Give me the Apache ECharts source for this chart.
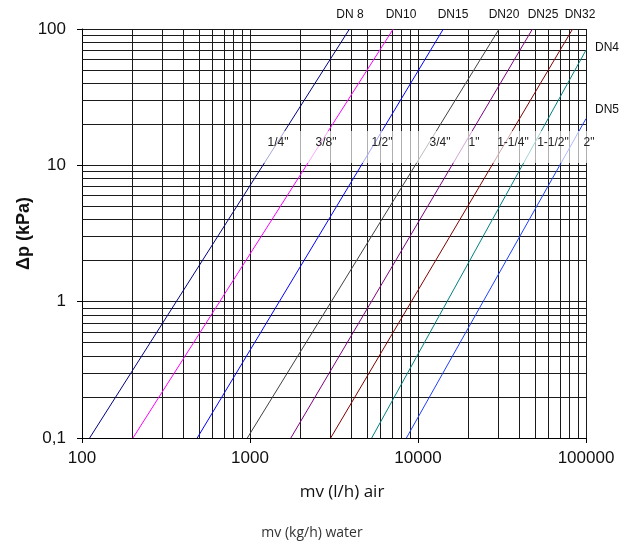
<!DOCTYPE html>
<html>
<head>
<meta charset="utf-8">
<script src="https://cdn.jsdelivr.net/npm/echarts@6/dist/echarts.min.js"></script>
<style>
  html, body { margin: 0; padding: 0; background: #fff; }
  #chart { width: 619px; height: 544px; }
</style>
</head>
<body>
<div id="chart"></div>
<script>
// pipe sizes, one curve each
const sizes = ['DN 8', 'DN10', 'DN15', 'DN20', 'DN25', 'DN32', 'DN40', 'DN50'];
const inches = ['1/4"', '3/8"', '1/2"', '3/4"', '1"', '1-1/4"', '1-1/2"', '2"'];
const lineColors = ['#000080', '#ff00ff', '#0000ff', '#404040', '#800080', '#800000', '#008080', '#1f3fff'];
// flow (l/h) where each curve leaves the bottom (0.1 kPa)
const flowLow = [111, 201, 485, 964, 1750, 3020, 5300, 8530];
const dpLow = [0.1, 0.1, 0.1, 0.1, 0.1, 0.1, 0.1, 0.1];
// end point of each curve (top edge, or right edge for DN40 / DN50)
const flowHigh = [3910, 7120, 14150, 30400, 48000, 83200, 100000, 100000];
const dpHigh = [100, 100, 100, 100, 100, 100, 70, 22];

const xDecades = [100, 1000, 10000];
const yDecades = [0.1, 1, 10];
const minorSteps = [2, 3, 4, 5, 6, 7, 8, 9];

var chart = echarts.init(document.getElementById('chart'));

// minor grid lines 2..9 inside each decade
let xMinor = [], yMinor = [];
xDecades.forEach(d => minorSteps.forEach(m => xMinor.push(d * m)));
yDecades.forEach(d => minorSteps.forEach(m => yMinor.push(+(d * m).toPrecision(3))));

let series = sizes.map((name, i) => ({
  name: name,
  type: 'line',
  symbol: 'none',
  silent: true,
  z: 5,
  lineStyle: { color: lineColors[i], width: 1 },
  data: [[flowLow[i], dpLow[i]], [flowHigh[i], dpHigh[i]]]
}));

series.push({
  name: 'grid',
  type: 'line',
  data: [],
  z: 1,
  markLine: {
    silent: true,
    symbol: 'none',
    animation: false,
    label: { show: false },
    lineStyle: { color: '#1a1a1a', width: 1, type: 'solid' },
    data: xMinor.map(v => ({ xAxis: v })).concat(yMinor.map(v => ({ yAxis: v })))
  }
});

const labelFont = 'Liberation Sans, Arial, sans-serif';
// DN labels above the plot
const dnPos = [[350, 15], [401, 15], [453, 15], [504, 15], [543, 15], [580, 15]];
let graphics = [];
dnPos.forEach((p, i) => {
  graphics.push({ type: 'text', x: p[0], y: p[1], z: 60,
    style: { text: sizes[i], font: '12px ' + labelFont, fill: '#111', textAlign: 'center', textVerticalAlign: 'middle' } });
});
graphics.push({ type: 'text', x: 595, y: 48, z: 60,
  style: { text: sizes[6], font: '12px ' + labelFont, fill: '#111', textAlign: 'left', textVerticalAlign: 'middle' } });
graphics.push({ type: 'text', x: 595, y: 110, z: 60,
  style: { text: sizes[7], font: '12px ' + labelFont, fill: '#111', textAlign: 'left', textVerticalAlign: 'middle' } });

// pale band behind the inch labels
graphics.push({ type: 'rect', z: 55, shape: { x: 252, y: 131, width: 350, height: 32 },
  style: { fill: 'rgba(255,255,255,0.65)' } });
const inchX = [278, 326, 382, 440, 474, 513, 553, 589];
inchX.forEach((x, i) => {
  graphics.push({ type: 'text', x: x, y: 143, z: 60,
    style: { text: inches[i], font: '12px ' + labelFont, fill: '#222', textAlign: 'center', textVerticalAlign: 'middle' } });
});

graphics.push({ type: 'text', x: 342, y: 492, z: 60,
  style: { text: 'mv (l/h) air', font: '17px "Open Sans", sans-serif', fill: '#111', textAlign: 'center', textVerticalAlign: 'middle' } });
graphics.push({ type: 'text', x: 312, y: 533, z: 60,
  style: { text: 'mv (kg/h) water', font: '14px "Open Sans", sans-serif', fill: '#333', textAlign: 'center', textVerticalAlign: 'middle' } });

let option = {
  animation: false,
  backgroundColor: '#fff',
  grid: { left: 82, right: 33, top: 29, bottom: 106, containLabel: false },
  xAxis: {
    type: 'log',
    logBase: 10,
    min: 100,
    max: 100000,
    axisLine: { show: true, lineStyle: { color: '#000', width: 1 } },
    axisTick: { show: true, length: 5, lineStyle: { color: '#000' } },
    axisLabel: {
      fontSize: 17, color: '#111', fontFamily: labelFont, margin: 12,
      formatter: v => String(Math.round(v))
    },
    splitLine: { show: true, lineStyle: { color: '#1a1a1a', width: 1 } },
    minorTick: { show: false },
    minorSplitLine: { show: false }
  },
  yAxis: {
    type: 'log',
    logBase: 10,
    min: 0.1,
    max: 100,
    name: 'Δp (kPa)',
    nameLocation: 'middle',
    nameGap: 49,
    nameMoveOverlap: false,
    nameTextStyle: { fontSize: 18, fontWeight: 'bold', color: '#111', fontFamily: labelFont },
    axisLine: { show: true, lineStyle: { color: '#000', width: 1 } },
    axisTick: { show: true, length: 5, lineStyle: { color: '#000' } },
    axisLabel: {
      fontSize: 17, color: '#111', fontFamily: labelFont, margin: 16,
      formatter: v => String(v).replace('.', ',')
    },
    splitLine: { show: true, lineStyle: { color: '#1a1a1a', width: 1 } }
  },
  graphic: graphics,
  series: series
};

chart.setOption(option);
</script>
</body>
</html>
